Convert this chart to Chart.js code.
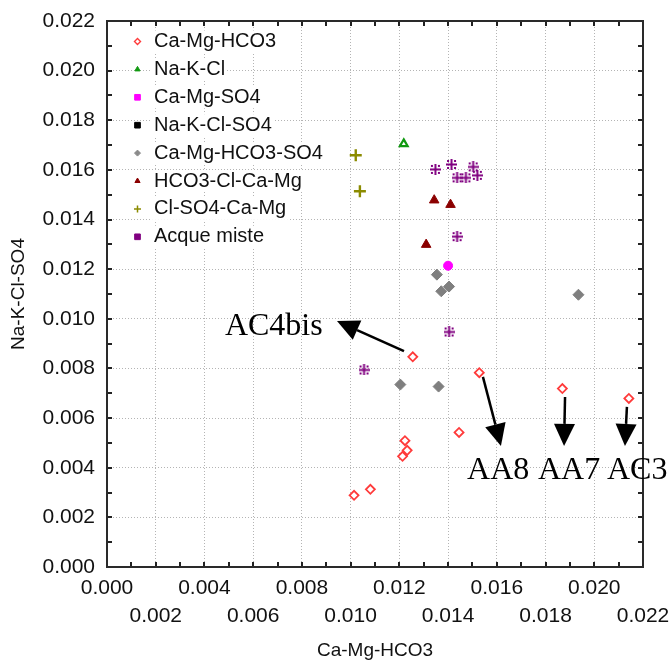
<!DOCTYPE html>
<html><head><meta charset="utf-8">
<script src="https://cdn.jsdelivr.net/npm/chart.js@4.4.0/dist/chart.umd.min.js"></script>
<style>html,body{margin:0;padding:0;background:#fff;}canvas{display:block;}</style>
</head><body>
<canvas id="c" width="671" height="664"></canvas>
<script>
// ---- data ----
const seriesNames = ['Ca-Mg-HCO3','Na-K-Cl','Ca-Mg-SO4','Na-K-Cl-SO4','Ca-Mg-HCO3-SO4','HCO3-Cl-Ca-Mg','Cl-SO4-Ca-Mg','Acque miste'];
const caMgHCO3 = [
  {x:0.01255,y:0.00847},{x:0.01528,y:0.00783},{x:0.01869,y:0.00719},{x:0.02142,y:0.00679},
  {x:0.01445,y:0.00542},{x:0.01223,y:0.00509},{x:0.01232,y:0.00470},{x:0.01213,y:0.00446},
  {x:0.01081,y:0.00313},{x:0.01014,y:0.00289}
];
const naKCl = [{x:0.01218,y:0.01705}];
const caMgSO4 = [{x:0.01400,y:0.01214}];
const naKClSO4 = [];
const caMgHCO3SO4 = [
  {x:0.01354,y:0.01178},{x:0.01372,y:0.01111},{x:0.01404,y:0.01130},
  {x:0.01204,y:0.00735},{x:0.01361,y:0.00727},{x:0.01935,y:0.01097}
];
const hco3ClCaMg = [{x:0.01343,y:0.01478},{x:0.01410,y:0.01460},{x:0.01310,y:0.01299}];
const clSO4CaMg = [{x:0.01021,y:0.01659},{x:0.01038,y:0.01514}];
const acqueMiste = [
  {x:0.01348,y:0.01602},{x:0.01414,y:0.01622},{x:0.01503,y:0.01612},
  {x:0.01437,y:0.01568},{x:0.01473,y:0.01568},{x:0.01520,y:0.01578},
  {x:0.01437,y:0.01331},{x:0.01404,y:0.00947},{x:0.01055,y:0.00794}
];
const xTickLabels = ['0.000','0.002','0.004','0.006','0.008','0.010','0.012','0.014','0.016','0.018','0.020','0.022'];
const yTickLabels = ['0.000','0.002','0.004','0.006','0.008','0.010','0.012','0.014','0.016','0.018','0.020','0.022'];
const xTitle = 'Ca-Mg-HCO3';
const yTitle = 'Na-K-Cl-SO4';
// annotations (data coordinates)
const annotLabels = ['AC4bis','AA8','AA7','AC3'];
const annotTextAt = [{x:0.00484,y:0.00935},{x:0.01478,y:0.00355},{x:0.01769,y:0.00355},{x:0.02052,y:0.00355}];
const arrowFrom = [{x:0.01219,y:0.00870},{x:0.01543,y:0.00766},{x:0.01880,y:0.00685},{x:0.02134,y:0.00645}];
const arrowTo = [{x:0.00944,y:0.00991},{x:0.01617,y:0.00488},{x:0.01876,y:0.00488},{x:0.02126,y:0.00488}];

// ---- custom purple marker ----
function makeMisteMarker(){
  const c = document.createElement('canvas'); c.width = 11; c.height = 11;
  const g = c.getContext('2d'); g.fillStyle = '#800080';
  g.fillRect(4.5,0,2,11); g.fillRect(0,4.5,11,2);
  g.fillRect(1,1,2,2); g.fillRect(8,1,2,2); g.fillRect(1,8,2,2); g.fillRect(8,8,2,2);
  return c;
}
const misteMarker = makeMisteMarker();

const seriesData = [caMgHCO3, naKCl, caMgSO4, naKClSO4, caMgHCO3SO4, hco3ClCaMg, clSO4CaMg, acqueMiste];
const styles = [
  {pointStyle:'rectRot', radius:4.5, borderColor:'#ff3a3a', backgroundColor:'#ffffff', borderWidth:1.8},
  {pointStyle:'triangle', radius:4.5, borderColor:'#119911', backgroundColor:'#ffffff', borderWidth:2.2},
  {pointStyle:'circle', radius:4.5, borderColor:'#ff00ff', backgroundColor:'#ff00ff', borderWidth:1},
  {pointStyle:'rect', radius:4, borderColor:'#000000', backgroundColor:'#000000', borderWidth:1},
  {pointStyle:'rectRot', radius:5.5, borderColor:'#7f7f7f', backgroundColor:'#7f7f7f', borderWidth:1},
  {pointStyle:'triangle', radius:5.5, borderColor:'#8b0000', backgroundColor:'#8b0000', borderWidth:1},
  {pointStyle:'cross', radius:6, borderColor:'#8b8b00', backgroundColor:'#8b8b00', borderWidth:2.4},
  {pointStyle:misteMarker, radius:6, borderColor:'#800080', backgroundColor:'#800080', borderWidth:1}
];
const legendStyles = [
  {pointStyle:'rectRot', radius:3, borderColor:'#ff3a3a', backgroundColor:'#ffffff', borderWidth:1.4},
  {pointStyle:'triangle', radius:3, borderColor:'#119911', backgroundColor:'#119911', borderWidth:1},
  {pointStyle:'rect', radius:4, borderColor:'#ff00ff', backgroundColor:'#ff00ff', borderWidth:1},
  {pointStyle:'rect', radius:4, borderColor:'#000000', backgroundColor:'#000000', borderWidth:1},
  {pointStyle:'rectRot', radius:3, borderColor:'#8a8a8a', backgroundColor:'#8a8a8a', borderWidth:1},
  {pointStyle:'triangle', radius:3, borderColor:'#8b0000', backgroundColor:'#8b0000', borderWidth:1},
  {pointStyle:'cross', radius:3.5, borderColor:'#8b8b00', backgroundColor:'#8b8b00', borderWidth:1.5},
  {pointStyle:'rect', radius:4, borderColor:'#800080', backgroundColor:'#800080', borderWidth:1}
];

const datasets = seriesNames.map((n,i)=>({
  label:n, data:seriesData[i], showLine:false,
  pointStyle:styles[i].pointStyle, pointRadius:styles[i].radius, pointHoverRadius:styles[i].radius,
  pointBorderColor:styles[i].borderColor, pointBackgroundColor:styles[i].backgroundColor,
  pointBorderWidth:styles[i].borderWidth
}));

const overlay = {
  id:'overlay',
  afterDraw(chart){
    const {ctx, chartArea:a, scales:{x,y}} = chart;
    ctx.save();
    // inner tick marks
    ctx.strokeStyle = '#222'; ctx.lineWidth = 2;
    for (let i=0;i<xTickLabels.length*2-1;i++){
      const v = 0.022*i/22;
      const px = Math.round(x.getPixelForValue(v));
      const py = Math.round(y.getPixelForValue(v));
      ctx.beginPath();
      ctx.moveTo(px,a.bottom); ctx.lineTo(px,a.bottom-5);
      ctx.moveTo(px,a.top); ctx.lineTo(px,a.top+5);
      ctx.moveTo(a.left,py); ctx.lineTo(a.left+5,py);
      ctx.moveTo(a.right,py); ctx.lineTo(a.right-5,py);
      ctx.stroke();
    }
    // frame
    ctx.strokeStyle = '#2a2a2a'; ctx.lineWidth = 2;
    ctx.strokeRect(Math.round(a.left), Math.round(a.top), Math.round(a.right-a.left), Math.round(a.bottom-a.top));
    // legend
    ctx.font = '20px "Liberation Sans", Arial, sans-serif';
    ctx.textBaseline = 'middle'; ctx.textAlign = 'left';
    seriesNames.forEach((n,i)=>{
      const ly = 41.5 + i*27.9;
      const tw = ctx.measureText(n).width;
      ctx.fillStyle = '#fff';
      ctx.fillRect(150, ly-11, tw+6, 22);
      const s = legendStyles[i];
      ctx.fillStyle = s.backgroundColor; ctx.strokeStyle = s.borderColor; ctx.lineWidth = s.borderWidth;
      Chart.helpers.drawPoint(ctx, {pointStyle:s.pointStyle, radius:s.radius, borderWidth:s.borderWidth, rotation:0}, 137.5, ly);
      ctx.fillStyle = '#111';
      ctx.fillText(n, 154, ly);
    });
    // annotations
    ctx.fillStyle = '#000'; ctx.strokeStyle = '#000';
    ctx.font = '32px "Liberation Serif", "Times New Roman", serif';
    ctx.textBaseline = 'alphabetic'; ctx.textAlign = 'left';
    annotLabels.forEach((t,i)=>{
      ctx.fillText(t, x.getPixelForValue(annotTextAt[i].x), y.getPixelForValue(annotTextAt[i].y));
      const x1 = x.getPixelForValue(arrowFrom[i].x), y1 = y.getPixelForValue(arrowFrom[i].y);
      const x2 = x.getPixelForValue(arrowTo[i].x), y2 = y.getPixelForValue(arrowTo[i].y);
      const ang = Math.atan2(y2-y1, x2-x1);
      const hl = 22, hw = 10.5;
      const bx = x2 - hl*Math.cos(ang), by = y2 - hl*Math.sin(ang);
      ctx.lineWidth = 2.5;
      ctx.beginPath(); ctx.moveTo(x1,y1); ctx.lineTo(bx,by); ctx.stroke();
      ctx.beginPath();
      ctx.moveTo(x2,y2);
      ctx.lineTo(bx + hw*Math.sin(ang), by - hw*Math.cos(ang));
      ctx.lineTo(bx - hw*Math.sin(ang), by + hw*Math.cos(ang));
      ctx.closePath(); ctx.fill();
    });
    ctx.restore();
  }
};

const tickFont = {family:'"Liberation Sans", Arial, sans-serif', size:21, lineHeight:1.33};
new Chart(document.getElementById('c'), {
  type:'scatter',
  data:{datasets},
  options:{
    responsive:false, animation:false, devicePixelRatio:1,
    layout:{padding:{left:0,right:28,top:21,bottom:0}},
    plugins:{legend:{display:false}, tooltip:{enabled:false}},
    scales:{
      x:{type:'linear', position:'bottom', min:0, max:0.022,
        afterFit(s){ s.height = 97; s.paddingLeft = 0; s.paddingRight = 0; s.paddingTop = 0; s.paddingBottom = 0; },
        ticks:{stepSize:0.002, padding:7, autoSkip:false, maxRotation:0, minRotation:0, color:'#111', font:tickFont,
          callback:(v,i)=> i%2===0 ? xTickLabels[i] : ['', xTickLabels[i]]},
        grid:{color:'#b4b4b4', lineWidth:1, drawTicks:false},
        border:{display:false, dash:[1,2]},
        title:{display:true, text:xTitle, color:'#111', font:{family:'"Liberation Sans", Arial, sans-serif', size:19}, padding:{top:0,bottom:2}}
      },
      y:{type:'linear', position:'left', min:0, max:0.022,
        afterFit(s){ s.width = 107; s.paddingLeft = 0; s.paddingRight = 0; s.paddingTop = 0; s.paddingBottom = 0; },
        ticks:{stepSize:0.002, padding:12, color:'#111', font:{family:'"Liberation Sans", Arial, sans-serif', size:21},
          callback:(v,i)=> yTickLabels[i]},
        grid:{color:'#b4b4b4', lineWidth:1, drawTicks:false},
        border:{display:false, dash:[1,2]},
        title:{display:true, text:yTitle, color:'#111', font:{family:'"Liberation Sans", Arial, sans-serif', size:19}, padding:{top:7,bottom:0}}
      }
    }
  },
  plugins:[overlay]
});
</script>
</body></html>
